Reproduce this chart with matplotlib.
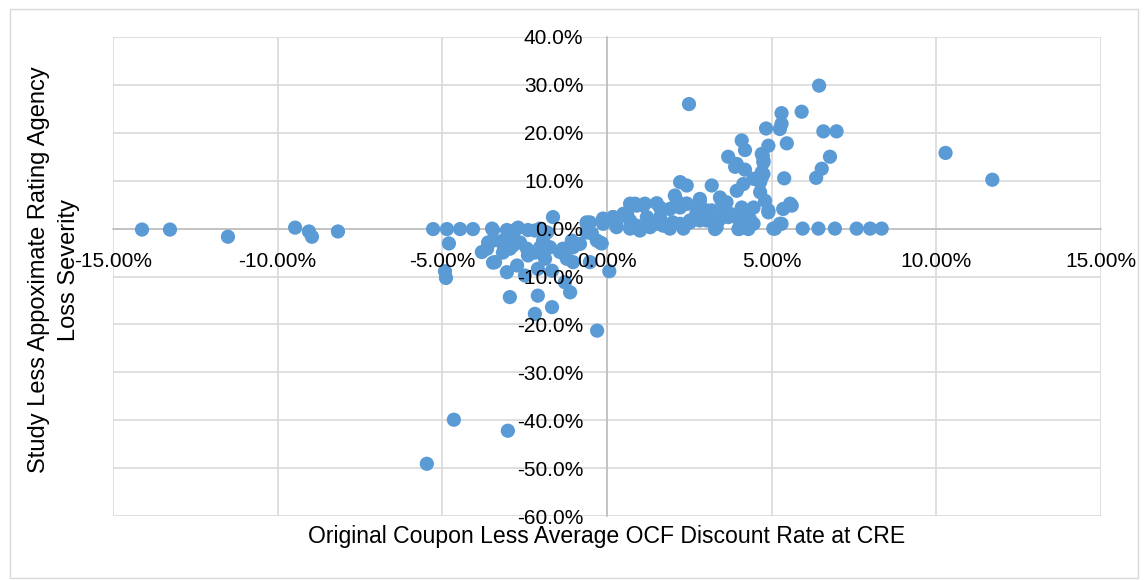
import numpy as np
import matplotlib.pyplot as plt
from matplotlib.ticker import FuncFormatter
from matplotlib.patches import Rectangle

plt.rcParams['font.family'] = ['Liberation Sans', 'DejaVu Sans']

# values in percent: coupon spread (x) vs loss severity difference (y)
far_left_x = [-14.12, -13.27, -11.51, -9.47, -9.05, -8.96, -8.17]
far_left_y = [-0.2, -0.2, -1.7, 0.2, -0.6, -1.7, -0.6]

outlier_x = [-3.01, -4.65, -5.47]
outlier_y = [-42.2, -39.9, -49.1]

neg_x = [-5.28, -4.86, -4.46, -4.07, -4.80, -4.92, -4.89, -3.80, -3.46, -3.61,
         -3.40, -3.04, -2.79, -2.40, -3.16, -2.85, -3.04, -2.73, -2.40, -2.49,
         -2.95, -2.10, -2.19, -1.67, -1.67, -2.03, -1.64, -1.82, -1.34, -1.28,
         -1.12, -1.03, -0.30, 0.07, -0.21, -0.82, -0.61, -0.12, 0.30, 0.61,
         0.70, -3.49, -2.70, -2.03, -3.64, -3.46, -3.16, -2.85, -2.64, -2.43,
         -2.19, -3.46, -3.16, -2.95, -1.94, -1.88, -2.10, -2.19, -1.94, -1.73,
         -1.43, -1.22, -1.03, -1.07, -0.62, -0.46, -0.31, -0.16, -0.52, -0.12,
         0.18, 0.60, 0.90, 1.15, 0.29, 0.70, 1.00, 1.21]
neg_y = [-0.1, -0.1, -0.1, -0.1, -3.1, -8.9, -10.3, -4.9, -0.3, -2.9,
         -7.0, -0.3, -0.3, -0.3, -3.2, -3.5, -9.1, -7.7, -5.6, -9.8,
         -14.3, -14.0, -17.8, -16.4, -8.8, -3.9, 2.4, -0.8, -4.2, -11.2,
         -13.3, -7.0, -21.3, -8.9, -2.9, -3.2, 1.0, 1.0, 2.0, 3.1,
         5.2, 0.0, 0.2, 0.0, -4.2, -2.5, -2.5, -1.9, -2.9, -4.2,
         -5.0, -7.1, -5.0, -4.2, -3.1, -6.3, -8.4, -0.4, -2.5, -3.9,
         -4.9, -6.3, -3.9, -2.5, 1.3, -1.0, -2.5, -3.1, -7.0, 2.1,
         2.4, 3.1, 4.8, 5.2, 0.3, 0.0, -0.4, 1.0]

pos_x = [6.44, 2.49, 5.30, 5.91, 4.83, 5.25, 5.30, 6.57, 6.97, 5.46,
         4.09, 4.19, 4.90, 4.73, 4.75, 3.68, 3.89, 4.19, 6.77, 6.52,
         6.35, 5.38, 4.70, 4.65, 4.75, 4.14, 3.94, 3.18, 2.42, 2.22,
         4.80, 4.65, 4.45, 4.09, 4.90, 5.61, 5.35, 3.48, 3.58, 2.82,
         2.72, 3.68, 4.24, 3.28, 3.99, 4.29, 4.45, 5.10, 5.30, 5.94,
         6.42, 6.92, 7.58, 7.99, 8.34, 2.42, 2.42, 2.82, 10.28, 11.70,
         2.06, 0.85, 1.10, 1.51, 0.50, 0.19, -0.01, -0.52, -0.62, 2.82,
         3.43, 3.63, 4.45, 4.70, 4.75, 4.70, 3.94, 5.56, 4.90, 3.74,
         3.43, 3.99, 4.34, 5.25, 5.05, 4.04, 2.52, 2.22, 1.71, 1.31,
         0.90, 3.03, 2.72, 2.22, 1.91, 1.61, 1.21, 0.70, 0.29, 1.61,
         2.12, 2.42, 2.82, 3.18, 3.43, 3.03, 2.52, 2.00, 1.51, 3.33,
         2.32, 1.91]
pos_y = [29.85, 26.0, 24.1, 24.4, 20.9, 20.8, 21.9, 20.3, 20.3, 17.8,
         18.4, 16.4, 17.3, 15.2, 13.8, 15.0, 12.9, 12.3, 15.0, 12.5,
         10.6, 10.5, 10.7, 9.7, 11.4, 9.3, 7.9, 9.0, 9.0, 9.7,
         5.8, 7.6, 4.4, 4.4, 3.4, 4.8, 4.1, 5.8, 4.4, 5.8,
         3.1, 2.4, 2.4, -0.1, -0.1, -0.1, 1.0, 0.0, 1.0, 0.0,
         0.0, 0.0, 0.0, 0.0, 0.0, 5.2, 1.0, 1.7, 15.8, 10.2,
         6.9, 5.2, 4.8, 5.3, 3.1, 2.4, 1.7, 1.3, -0.8, 6.2,
         6.5, 5.5, 10.4, 11.8, 14.2, 15.6, 13.5, 5.2, 3.8, 3.1,
         2.0, 2.0, 2.0, 1.0, 0.0, 0.0, 1.3, 1.0, 0.6, 0.3,
         0.6, 3.8, 3.4, 4.4, 4.1, 2.4, 2.4, 1.7, 0.6, 4.4,
         5.8, 5.2, 4.4, 3.8, 2.4, 1.7, 1.7, 1.3, 1.0, 0.3,
         0.0, 0.0]

x_ticks = [-15, -10, -5, 0, 5, 10, 15]
y_ticks = [-60, -50, -40, -30, -20, -10, 0, 10, 20, 30, 40]

x_all = np.array(far_left_x + outlier_x + neg_x + pos_x)
y_all = np.array(far_left_y + outlier_y + neg_y + pos_y)

fig = plt.figure(figsize=(11.48, 5.8), dpi=100)
ax = fig.add_axes([113/1148, 1 - 516/580, 988/1148, 479/580])

# chart area border
fig.patches.append(Rectangle((10/1148, 2/580), 1128/1148, 569/580, transform=fig.transFigure,
                             fill=False, edgecolor='#D9D9D9', linewidth=1))

grid_c = '#D9D9D9'
for xv in x_ticks:
    ax.axvline(xv, color=grid_c, linewidth=1.2, zorder=0)
for yv in y_ticks:
    ax.axhline(yv, color=grid_c, linewidth=1.2, zorder=0)

ax.scatter(x_all, y_all, s=105, color='#5B9BD5', edgecolors='none', zorder=2)

ax.set_xlim(-15, 15)
ax.set_ylim(-60, 40)
ax.set_xticks(x_ticks)
ax.set_yticks(y_ticks)

def fmt_x(v, pos):
    return '0.00%' if v == 0 else f'{v:.2f}%'

def fmt_y(v, pos):
    return '0.0%' if v == 0 else f'{v:.1f}%'

ax.xaxis.set_major_formatter(FuncFormatter(fmt_x))
ax.yaxis.set_major_formatter(FuncFormatter(fmt_y))

for side in ['top', 'right']:
    ax.spines[side].set_visible(False)
for side in ['left', 'bottom']:
    ax.spines[side].set_position('zero')
    ax.spines[side].set_color('#BFBFBF')
    ax.spines[side].set_linewidth(1.2)
    ax.spines[side].set_zorder(1)

ax.set_axisbelow(False)
ax.tick_params(axis='both', length=0, labelsize=15, colors='black')
ax.tick_params(axis='x', pad=17)
ax.tick_params(axis='y', pad=17)
ax.set_facecolor('white')

fig.text(607/1148, 1 - 537/580, 'Original Coupon Less Average OCF Discount Rate at CRE',
         ha='center', va='center', fontsize=16.6)
fig.text(54/1148, 1 - 270/580, 'Study Less Appoximate Rating Agency\nLoss Severity',
         ha='center', va='center', rotation=90, fontsize=17, multialignment='center',
         linespacing=1.45)

fig.savefig('out.png', dpi=100)
